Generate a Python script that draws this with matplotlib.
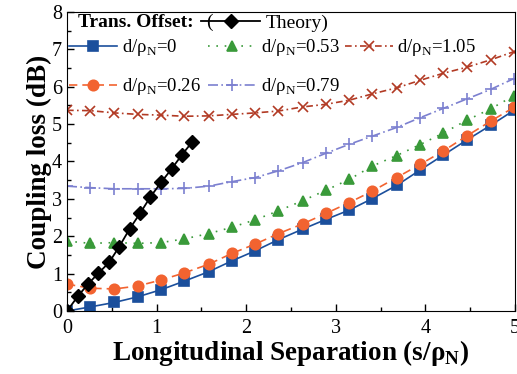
import matplotlib

matplotlib.use("Agg")
import matplotlib.pyplot as plt
from matplotlib.ticker import MultipleLocator

plt.rcParams["font.family"] = ["Liberation Serif", "DejaVu Serif"]
plt.rcParams["mathtext.fontset"] = "custom"
plt.rcParams["mathtext.rm"] = "Liberation Serif"
plt.rcParams["mathtext.bf"] = "Liberation Serif:bold"

# normalized longitudinal separation s/rho_N
sep = [0.0, 0.26, 0.53, 0.79, 1.05, 1.31, 1.58, 1.84, 2.10, 2.36,
       2.63, 2.89, 3.15, 3.41, 3.68, 3.94, 4.20, 4.46, 4.73, 4.99]
sep_theory = [0.0, 0.12, 0.23, 0.35, 0.47, 0.58, 0.70, 0.82, 0.93,
              1.05, 1.17, 1.28, 1.40]

# coupling loss (dB) per transverse offset d/rho_N
loss_000 = [0.00, 0.11, 0.23, 0.38, 0.57, 0.80, 1.05, 1.34, 1.61, 1.91,
            2.19, 2.45, 2.70, 3.01, 3.36, 3.77, 4.17, 4.57, 4.97, 5.37]
loss_026 = [0.72, 0.61, 0.59, 0.67, 0.83, 1.02, 1.25, 1.54, 1.79, 2.07,
            2.33, 2.61, 2.90, 3.21, 3.57, 3.92, 4.28, 4.68, 5.08, 5.45]
loss_053 = [1.87, 1.81, 1.83, 1.81, 1.83, 1.93, 2.07, 2.24, 2.44, 2.68,
            2.95, 3.23, 3.52, 3.88, 4.16, 4.45, 4.76, 5.10, 5.41, 5.76]
loss_079 = [3.34, 3.30, 3.27, 3.27, 3.27, 3.28, 3.34, 3.46, 3.57, 3.75,
            3.97, 4.22, 4.46, 4.68, 4.91, 5.17, 5.42, 5.67, 5.93, 6.22]
loss_105 = [5.37, 5.36, 5.30, 5.26, 5.24, 5.21, 5.22, 5.26, 5.30, 5.35,
            5.46, 5.53, 5.64, 5.81, 5.97, 6.17, 6.36, 6.52, 6.72, 6.94]
loss_theory = [0.00, 0.39, 0.71, 1.01, 1.30, 1.71, 2.20, 2.63, 3.05,
               3.44, 3.81, 4.17, 4.53]

offsets = ["0", "0.26", "0.53", "0.79", "1.05"]
series = [loss_000, loss_026, loss_053, loss_079, loss_105]
colors = ["#1b4f9c", "#f26330", "#3a9a3a", "#7c80d0", "#b23a24"]
markers = ["s", "o", "^", "+", "x"]
msizes = [6.5, 7.5, 7.5, 9, 7.5]
styles = ["-", (0, (5, 3)), (0, (1, 4)), (0, (6, 2, 1, 2)), (0, (4, 2, 1, 2))]

fig = plt.figure(figsize=(5.17, 3.74), dpi=100)
ax = fig.add_axes([0.1296, 0.1684, 0.8664, 0.7996])

handles = []
for off, y, c, m, ms, ls in zip(offsets, series, colors, markers, msizes, styles):
    h, = ax.plot(sep, y, color=c, marker=m, ms=ms, ls=ls, lw=1.2, mew=1.2,
                 label=r"d/ρ$_\mathrm{N}$=" + off)
    handles.append(h)

th, = ax.plot(sep_theory, loss_theory, color="black", marker="D", ms=7,
              lw=1.3, label="Theory)")

ax.set_xlim(0, 5)
ax.set_ylim(0, 8)
ax.xaxis.set_major_locator(MultipleLocator(1))
ax.xaxis.set_minor_locator(MultipleLocator(0.5))
ax.yaxis.set_major_locator(MultipleLocator(1))
ax.yaxis.set_minor_locator(MultipleLocator(0.5))
ax.tick_params(which="both", direction="in", top=False, right=False,
               labelsize=14.5)
ax.tick_params(which="major", length=5, width=1)
ax.tick_params(which="minor", length=3, width=1)
ax.tick_params(axis="x", pad=6)

ax.set_xlabel(r"Longitudinal Separation (s/ρ$_\mathbf{N}$)",
              fontsize=19.5, fontweight="bold", labelpad=0)
ax.set_ylabel("Coupling loss (dB)", fontsize=19.5, fontweight="bold",
              labelpad=0)

# legend header: "Trans. Offset:  (-◆- Theory)"
ax.text(0.024, 0.964, "Trans. Offset:", transform=ax.transAxes,
        fontsize=14, fontweight="bold", va="center", ha="left")
ax.text(0.31, 0.964, "(", transform=ax.transAxes, fontsize=14,
        va="center", ha="left")
legends = [ax.legend(handles=[th], loc="center left",
                     bbox_to_anchor=(0.30, 0.964), frameon=False, fontsize=14,
                     handlelength=3.0, handletextpad=0.3, borderpad=0,
                     borderaxespad=0)]

# offset entries laid out as three columns
columns = [(0.005, handles[0:2]), (0.315, handles[2:4]), (0.62, handles[4:5])]
for x0, hs in columns:
    legends.append(ax.legend(handles=hs, loc="upper left",
                             bbox_to_anchor=(x0, 0.915), frameon=False,
                             fontsize=13.5, handlelength=2.55,
                             handletextpad=0.25, labelspacing=0.95,
                             borderpad=0, borderaxespad=0))

# the last legend() call is already attached as ax.legend_
for leg in legends[:-1]:
    ax.add_artist(leg)

fig.savefig("out.png", dpi=100)
